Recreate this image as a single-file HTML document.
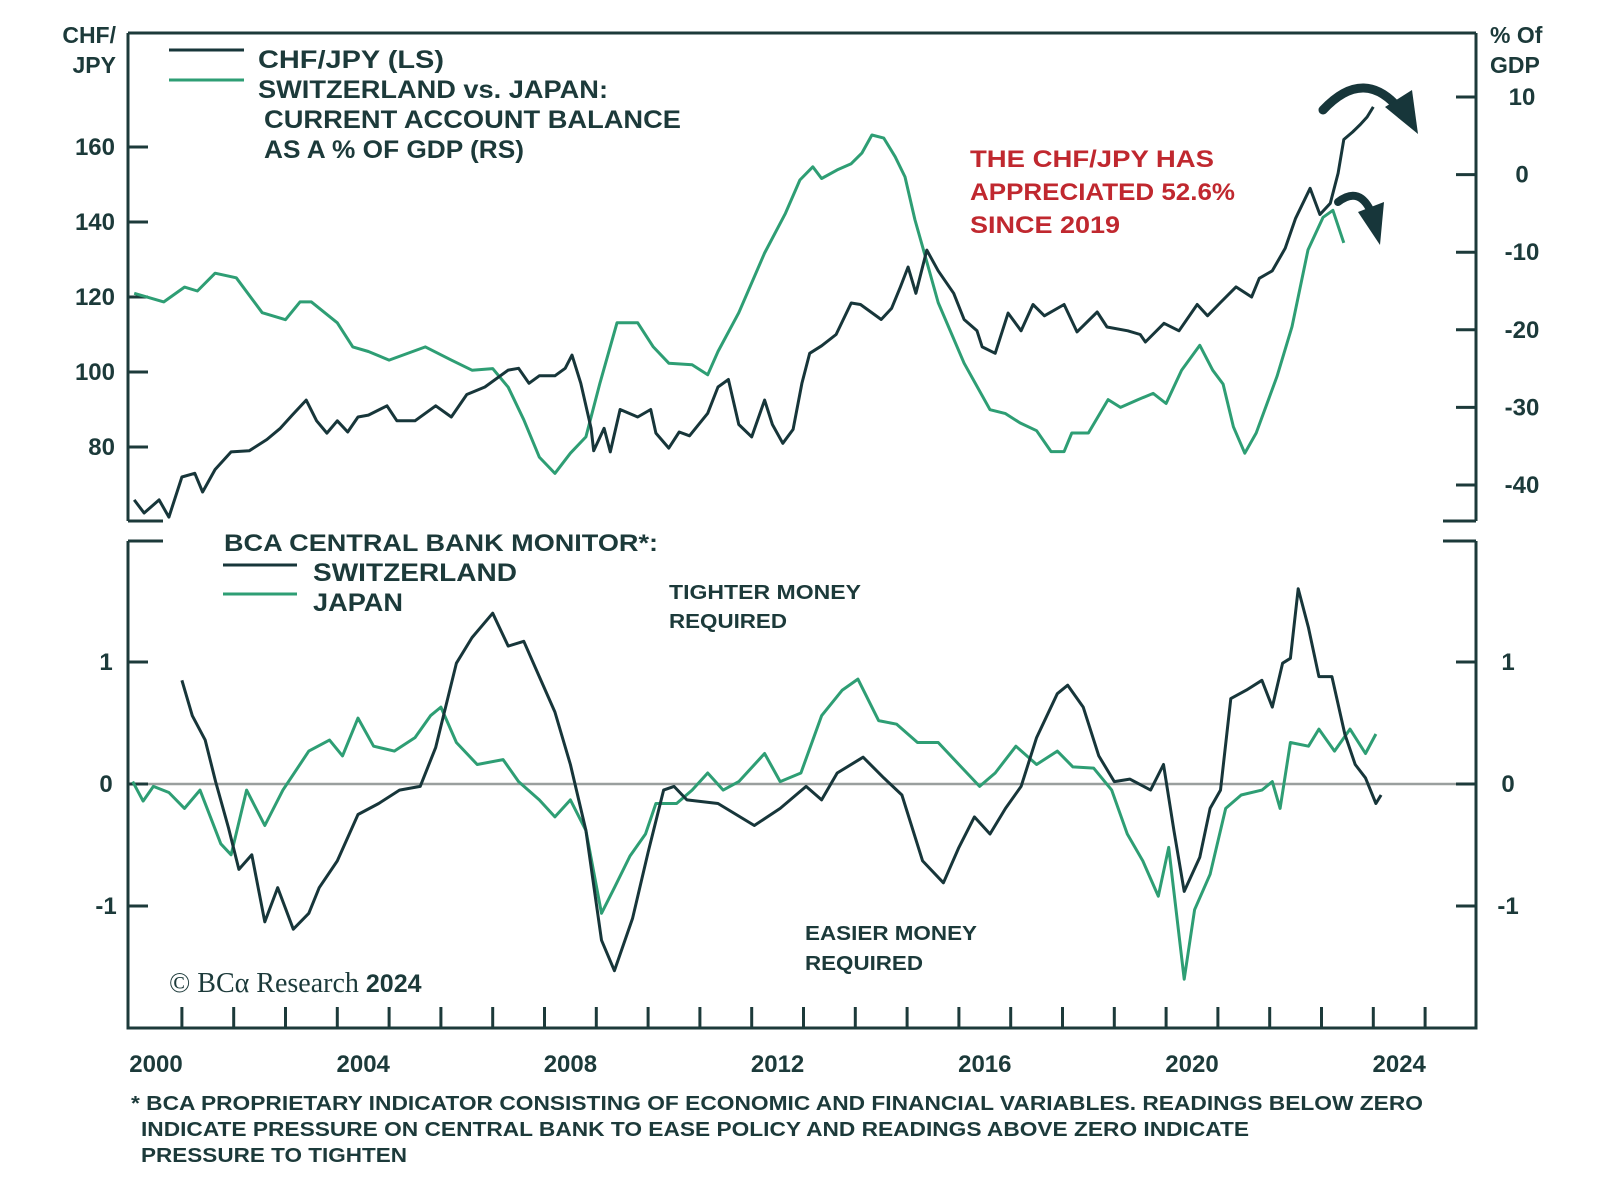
<!DOCTYPE html>
<html><head><meta charset="utf-8"><style>
html,body{margin:0;padding:0;background:#fff;}
svg{display:block;font-family:"Liberation Sans",sans-serif;}
.t{font-weight:bold;fill:#1c3a3a;}
</style></head><body>
<svg id="chart" width="1600" height="1188" viewBox="0 0 1600 1188">
<g id="frame" stroke="#1c3a3a" stroke-width="3" fill="none">
<path d="M128 33 H1476 M128 33 V521 M1476 33 V521 M128 521 H163 M1443 521 H1476"/>
<path d="M128 541 V1028 H1476 V541 M128 541 H163 M1443 541 H1476"/>
</g>
<line x1="128" y1="784" x2="1476" y2="784" stroke="#9a9f9e" stroke-width="2.5"/>
<g id="axes"></g>
<g id="series"></g>
<text class="t" x="116" y="43" font-size="23" text-anchor="end">CHF/</text>
<text class="t" x="116" y="73" font-size="23" text-anchor="end">JPY</text>
<text class="t" x="1490" y="43" font-size="23">% Of</text>
<text class="t" x="1490" y="73" font-size="23">GDP</text>
<line x1="169" y1="50" x2="244" y2="50" stroke="#17363a" stroke-width="3"/>
<text class="t" x="258" y="68" font-size="25" textLength="186" lengthAdjust="spacingAndGlyphs">CHF/JPY (LS)</text>
<line x1="169" y1="80" x2="244" y2="80" stroke="#2e9e74" stroke-width="3"/>
<text class="t" x="258" y="98" font-size="25" textLength="350" lengthAdjust="spacingAndGlyphs">SWITZERLAND vs. JAPAN:</text>
<text class="t" x="264" y="128" font-size="25" textLength="417" lengthAdjust="spacingAndGlyphs">CURRENT ACCOUNT BALANCE</text>
<text class="t" x="264" y="158" font-size="25" textLength="260" lengthAdjust="spacingAndGlyphs">AS A % OF GDP (RS)</text>
<g fill="#c0282f" font-weight="bold" font-size="24">
<text x="970" y="167" textLength="244" lengthAdjust="spacingAndGlyphs">THE CHF/JPY HAS</text>
<text x="970" y="200" textLength="265" lengthAdjust="spacingAndGlyphs">APPRECIATED 52.6%</text>
<text x="970" y="233" textLength="150" lengthAdjust="spacingAndGlyphs">SINCE 2019</text>
</g>
<g>
<path d="M1323 110 Q1365 65 1402 112" stroke="#17363a" stroke-width="9" fill="none" stroke-linecap="round"/>
<polygon points="1385,107 1412,90 1418,134" fill="#17363a"/>
</g>
<g>
<path d="M1338 202 Q1360 185 1372 214" stroke="#17363a" stroke-width="8" fill="none" stroke-linecap="round"/>
<polygon points="1358,212 1384,202 1380,245" fill="#17363a"/>
</g>
<text class="t" x="224" y="551" font-size="24" textLength="434" lengthAdjust="spacingAndGlyphs">BCA CENTRAL BANK MONITOR*:</text>
<line x1="223" y1="565" x2="297" y2="565" stroke="#17363a" stroke-width="3"/>
<text class="t" x="313" y="581" font-size="25" textLength="204" lengthAdjust="spacingAndGlyphs">SWITZERLAND</text>
<line x1="223" y1="594" x2="297" y2="594" stroke="#2e9e74" stroke-width="3"/>
<text class="t" x="313" y="611" font-size="25" textLength="90" lengthAdjust="spacingAndGlyphs">JAPAN</text>
<g class="t" font-size="20">
<text x="669" y="599" textLength="192" lengthAdjust="spacingAndGlyphs">TIGHTER MONEY</text>
<text x="669" y="628" textLength="118" lengthAdjust="spacingAndGlyphs">REQUIRED</text>
</g>
<g class="t" font-size="20">
<text x="805" y="940" textLength="172" lengthAdjust="spacingAndGlyphs">EASIER MONEY</text>
<text x="805" y="970" textLength="118" lengthAdjust="spacingAndGlyphs">REQUIRED</text>
</g>
<text x="169" y="992" font-size="28" fill="#1c3a3a" font-family="Liberation Serif, serif">© BCα Research <tspan font-family="Liberation Sans, sans-serif" font-weight="bold" font-size="25">2024</tspan></text>
<g class="t" font-size="20">
<text x="131" y="1110" textLength="1292" lengthAdjust="spacingAndGlyphs">* BCA PROPRIETARY INDICATOR CONSISTING OF ECONOMIC AND FINANCIAL VARIABLES. READINGS BELOW ZERO</text>
<text x="141" y="1136" textLength="1108" lengthAdjust="spacingAndGlyphs">INDICATE PRESSURE ON CENTRAL BANK TO EASE POLICY AND READINGS ABOVE ZERO INDICATE</text>
<text x="141" y="1162" textLength="266" lengthAdjust="spacingAndGlyphs">PRESSURE TO TIGHTEN</text>
</g>
</svg>
<script>
const chfYears=[1999.58,1999.77,2000.06,2000.25,2000.5,2000.75,2000.9,2001.14,2001.45,2001.8,2002.14,2002.4,2002.63,2002.9,2003.1,2003.3,2003.5,2003.7,2003.9,2004.1,2004.46,2004.65,2005.0,2005.4,2005.7,2006.0,2006.35,2006.8,2007.0,2007.2,2007.4,2007.7,2007.9,2008.03,2008.2,2008.4,2008.45,2008.65,2008.77,2008.96,2009.3,2009.55,2009.65,2009.9,2010.1,2010.3,2010.65,2010.85,2011.05,2011.25,2011.5,2011.75,2011.9,2012.1,2012.3,2012.47,2012.62,2012.85,2013.13,2013.42,2013.6,2014.0,2014.2,2014.37,2014.52,2014.67,2014.88,2015.1,2015.4,2015.6,2015.85,2015.95,2016.2,2016.45,2016.7,2016.93,2017.15,2017.53,2017.78,2018.17,2018.36,2018.76,2019.0,2019.1,2019.46,2019.75,2020.1,2020.3,2020.54,2020.85,2021.15,2021.3,2021.55,2021.8,2022.0,2022.28,2022.47,2022.67,2022.82,2022.93,2023.1,2023.25,2023.38,2023.5];
const chfVals=[65.9,62.4,65.9,61.3,72,73,68,74,78.7,79,82,85,88.5,92.5,87,83.7,87,84,88,88.5,91,87,87,91,88,94,96,100.5,101,97,99,99,101,104.5,97,85,79,85,78.7,90,88,90,83.7,79.7,84,83,89,96,98,86,82.7,92.5,86,81,84.7,97,105,107,110,118.4,118,114,117,122.7,128,121,132.5,127,121,114,111,106.7,105,115.7,111,118,115,118,110.7,116,112,111,110,108,113,111,118,115,118.4,122.7,120,125,127,133,141,149,142,145,153,162,164,166,168,170.7];
const caYears=[1999.58,2000.15,2000.55,2000.8,2001.14,2001.55,2002.05,2002.5,2002.78,2003.0,2003.5,2003.8,2004.1,2004.5,2005.2,2005.7,2006.1,2006.5,2006.8,2007.1,2007.4,2007.7,2008.0,2008.3,2008.57,2008.9,2009.3,2009.6,2009.9,2010.35,2010.65,2010.85,2011.25,2011.75,2012.15,2012.43,2012.68,2012.85,2013.15,2013.42,2013.63,2013.82,2014.05,2014.27,2014.46,2014.65,2014.8,2015.1,2015.6,2016.1,2016.4,2016.68,2017.0,2017.28,2017.53,2017.68,2018.0,2018.38,2018.62,2018.96,2019.25,2019.5,2019.8,2020.15,2020.4,2020.6,2020.8,2021.02,2021.24,2021.64,2021.93,2022.24,2022.53,2022.72,2022.93];
const caVals=[-15.3,-16.4,-14.5,-15,-12.7,-13.3,-17.8,-18.7,-16.4,-16.4,-19.1,-22.2,-22.8,-23.9,-22.2,-23.9,-25.2,-25,-27.4,-31.6,-36.4,-38.5,-35.9,-33.8,-26.9,-19.1,-19.1,-22.2,-24.3,-24.5,-25.8,-22.8,-17.8,-10.1,-5,-0.7,1,-0.5,0.6,1.4,2.8,5.1,4.7,2.3,-0.3,-5.8,-9.3,-16.5,-24.3,-30.3,-30.8,-32,-33,-35.7,-35.7,-33.3,-33.3,-29,-30,-29,-28.2,-29.5,-25.2,-22,-25.2,-27,-32.5,-35.9,-33.3,-26,-19.6,-9.7,-5.5,-4.6,-8.8];
const swYears=[2000.5,2000.7,2000.95,2001.15,2001.4,2001.6,2001.85,2002.1,2002.35,2002.65,2002.95,2003.15,2003.5,2003.9,2004.3,2004.7,2005.1,2005.4,2005.8,2006.1,2006.5,2006.8,2007.1,2007.4,2007.7,2008.0,2008.3,2008.6,2008.85,2009.2,2009.5,2009.8,2010.0,2010.25,2010.85,2011.55,2012.05,2012.55,2012.85,2013.15,2013.65,2014.05,2014.4,2014.8,2015.2,2015.5,2015.8,2016.1,2016.4,2016.7,2017.0,2017.4,2017.6,2017.9,2018.2,2018.5,2018.8,2019.2,2019.45,2019.65,2019.85,2020.15,2020.35,2020.55,2020.75,2021.05,2021.35,2021.55,2021.75,2021.9,2022.05,2022.25,2022.45,2022.7,2022.95,2023.15,2023.35,2023.55,2023.65];
const swVals=[0.85,0.56,0.36,0.02,-0.36,-0.7,-0.58,-1.13,-0.85,-1.19,-1.06,-0.85,-0.63,-0.25,-0.16,-0.05,-0.02,0.3,0.99,1.2,1.4,1.13,1.17,0.88,0.59,0.16,-0.38,-1.28,-1.53,-1.1,-0.56,-0.05,-0.02,-0.13,-0.16,-0.34,-0.2,-0.02,-0.13,0.09,0.22,0.05,-0.09,-0.63,-0.81,-0.52,-0.27,-0.41,-0.2,-0.02,0.38,0.74,0.81,0.63,0.23,0.02,0.04,-0.05,0.16,-0.38,-0.88,-0.6,-0.2,-0.05,0.7,0.77,0.85,0.63,0.99,1.03,1.6,1.28,0.88,0.88,0.41,0.16,0.05,-0.16,-0.09];
const jpYears=[1999.55,1999.75,1999.95,2000.25,2000.55,2000.85,2001.25,2001.45,2001.75,2002.1,2002.45,2002.95,2003.35,2003.6,2003.9,2004.2,2004.6,2005.0,2005.3,2005.5,2005.8,2006.2,2006.7,2007.0,2007.4,2007.7,2008.0,2008.3,2008.6,2008.85,2009.15,2009.45,2009.65,2010.05,2010.35,2010.65,2010.95,2011.25,2011.75,2012.05,2012.45,2012.85,2013.25,2013.55,2013.95,2014.3,2014.7,2015.1,2015.5,2015.9,2016.2,2016.6,2017.0,2017.4,2017.7,2018.1,2018.45,2018.75,2019.05,2019.35,2019.55,2019.85,2020.05,2020.35,2020.65,2020.95,2021.35,2021.55,2021.7,2021.9,2022.25,2022.45,2022.75,2023.05,2023.35,2023.55];
const jpVals=[0.02,-0.14,-0.02,-0.07,-0.2,-0.05,-0.49,-0.58,-0.05,-0.34,-0.05,0.27,0.36,0.23,0.54,0.31,0.27,0.38,0.56,0.63,0.34,0.16,0.2,0.02,-0.13,-0.27,-0.13,-0.38,-1.06,-0.85,-0.59,-0.41,-0.16,-0.16,-0.05,0.09,-0.05,0.02,0.25,0.02,0.09,0.56,0.77,0.86,0.52,0.49,0.34,0.34,0.16,-0.02,0.09,0.31,0.16,0.27,0.14,0.13,-0.05,-0.41,-0.63,-0.92,-0.52,-1.6,-1.03,-0.74,-0.2,-0.09,-0.05,0.02,-0.2,0.34,0.31,0.45,0.27,0.45,0.25,0.41];
const leftTicks=[80,100,120,140,160];
const rightTicks=[-40,-30,-20,-10,0,10];
const bottomTicks=[-1,0,1];
const yearLabels=[2000,2004,2008,2012,2016,2020,2024];

const NS='http://www.w3.org/2000/svg';
const xS=y=>156+(y-2000)*51.8;
const yL=v=>147+(160-v)*3.75;
const yR=v=>97+(10-v)*7.76;
const yB=v=>784-v*122;
function mk(tag,attrs,parent){const e=document.createElementNS(NS,tag);for(const k in attrs)e.setAttribute(k,attrs[k]);parent.appendChild(e);return e;}
const axes=document.getElementById('axes'),series=document.getElementById('series');
const tickStyle={stroke:'#1c3a3a','stroke-width':3};
leftTicks.forEach(v=>{
  const l=mk('line',Object.assign({x1:128,x2:148,y1:yL(v),y2:yL(v)},tickStyle),axes);
  
  
  const t=mk('text',{x:115,y:yL(v)+8,'text-anchor':'end','font-size':24,'font-weight':'bold',fill:'#1c3a3a'},axes);t.textContent=v;
  
  
});
rightTicks.forEach(v=>{
  const l=mk('line',Object.assign({x1:1456,x2:1476,y1:yR(v),y2:yR(v)},tickStyle),axes);
  
  
  const t=mk('text',{x:1522,y:yR(v)+8,'text-anchor':'middle','font-size':24,'font-weight':'bold',fill:'#1c3a3a'},axes);t.textContent=v;
  
  
});
bottomTicks.forEach(v=>{
  [[128,148,106],[1456,1476,1508]].forEach(p=>{
    const l=mk('line',Object.assign({x1:p[0],x2:p[1],y1:yB(v),y2:yB(v)},tickStyle),axes);
    
    
    const t=mk('text',{x:p[2],y:yB(v)+8,'text-anchor':'middle','font-size':24,'font-weight':'bold',fill:'#1c3a3a'},axes);t.textContent=v;
    
    
  });
});
for(let y=2000.5;y<2025;y+=1){
  const l=mk('line',Object.assign({x1:xS(y),x2:xS(y),y1:1007,y2:1028},tickStyle),axes);
  
  
}
yearLabels.forEach(y=>{
  const t=mk('text',{x:xS(y),y:1072,'text-anchor':'middle','font-size':24,'font-weight':'bold',fill:'#1c3a3a'},axes);t.textContent=y;
  
  
});
function line(xs,vs,ys,color,w){
  return mk('polyline',{points:xs.map((x,i)=>xS(x).toFixed(1)+','+ys(vs[i]).toFixed(1)).join(' '),fill:'none',stroke:color,'stroke-width':w,'stroke-linejoin':'round'},series);
}
const a=line(caYears,caVals,yR,'#2e9e74',3);


const b=line(chfYears,chfVals,yL,'#17363a',3);


const c=line(jpYears,jpVals,yB,'#2e9e74',3);


const d=line(swYears,swVals,yB,'#17363a',3);


</script>
</body></html>
